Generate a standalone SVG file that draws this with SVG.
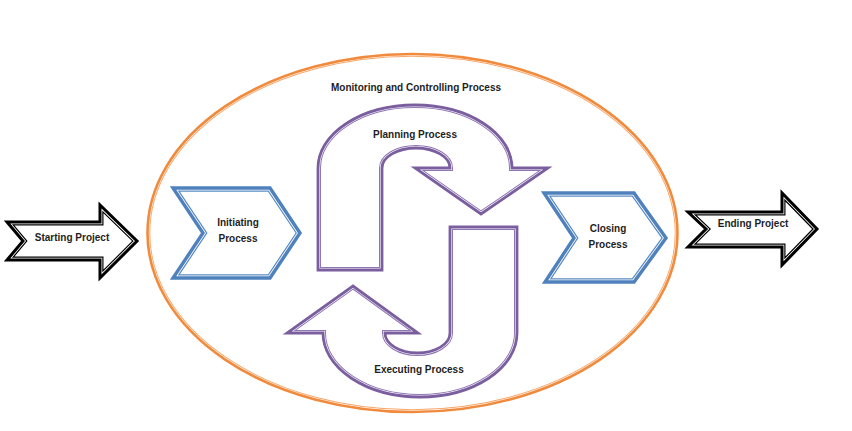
<svg xmlns="http://www.w3.org/2000/svg" xmlns:xlink="http://www.w3.org/1999/xlink" width="852" height="431" viewBox="0 0 852 431">
<style>
  .lbl { font-family: "Liberation Sans", Arial, sans-serif; font-weight: bold; font-size: 10px; fill: #1e1e1e; text-anchor: middle; }
  use { stroke-linejoin: miter; stroke-miterlimit: 10; }
  .k1 { fill: #ffffff; stroke: #000000; stroke-width: 7; }
  .k2 { fill: none; stroke: #ffffff; stroke-width: 4.6; }
  .k3 { fill: none; stroke: #000000; stroke-width: 3; }
  .b1 { fill: #ffffff; stroke: #5B8CC4; stroke-width: 7.5; }
  .b2 { fill: none; stroke: #ffffff; stroke-width: 5; }
  .b3 { fill: none; stroke: #4F81BD; stroke-width: 3.4; }
  .p1 { fill: #ffffff; stroke: #8F77B3; stroke-width: 6; }
  .p2 { fill: none; stroke: #ffffff; stroke-width: 4; }
  .p3 { fill: none; stroke: #7A5E9E; stroke-width: 2.8; }
  .o1 { fill: #ffffff; stroke: #F9A66A; stroke-width: 5.5; }
  .o2 { fill: none; stroke: #ffffff; stroke-width: 3.6; }
  .o3 { fill: none; stroke: #F08A3C; stroke-width: 2.6; }
</style>
<defs>
  <path id="p-start" d="M 7 222 L 100 222 L 100 205 L 137 241 L 100 278 L 100 260 L 7 260 L 23 241 Z"/>
  <path id="p-end" d="M 688 212 L 782 212 L 782 193 L 817 229 L 782 265 L 782 247 L 688 247 L 706 229 Z"/>
  <path id="p-init" d="M 173 188 L 270 188 L 300 233 L 270 278 L 173 278 L 203 233 Z"/>
  <path id="p-close" d="M 544 193 L 634 193 L 666 238 L 634 282 L 545 282 L 574 238 Z"/>
  <path id="p-plan" d="M 318 270 L 318 168 A 97 63 0 0 1 512 168 L 548 168 L 481 214 L 415 168 L 450 168 A 34 20 0 0 0 382 168 L 382 270 Z"/>
  <path id="p-exec" d="M 517 227 L 517 333 A 97 64 0 0 1 323 333 L 287 333 L 353 286 L 418 333 L 385 333 A 32.5 20 0 0 0 450 333 L 450 227 Z"/>
  <ellipse id="p-mon" cx="412.5" cy="233" rx="265" ry="179"/>
  <clipPath id="c-start"><use xlink:href="#p-start"/></clipPath>
  <clipPath id="c-end"><use xlink:href="#p-end"/></clipPath>
  <clipPath id="c-init"><use xlink:href="#p-init"/></clipPath>
  <clipPath id="c-close"><use xlink:href="#p-close"/></clipPath>
  <clipPath id="c-plan"><use xlink:href="#p-plan"/></clipPath>
  <clipPath id="c-exec"><use xlink:href="#p-exec"/></clipPath>
  <clipPath id="c-mon"><use xlink:href="#p-mon"/></clipPath>
</defs>
<g id="monitoring">
  <use xlink:href="#p-mon" class="o1" clip-path="url(#c-mon)"/>
  <use xlink:href="#p-mon" class="o2" clip-path="url(#c-mon)"/>
  <use xlink:href="#p-mon" class="o3"/>
  <text class="lbl" x="416" y="91">Monitoring and Controlling Process</text>
</g>
<g id="starting">
  <use xlink:href="#p-start" class="k1" clip-path="url(#c-start)"/>
  <use xlink:href="#p-start" class="k2" clip-path="url(#c-start)"/>
  <use xlink:href="#p-start" class="k3"/>
  <text class="lbl" x="72" y="241">Starting Project</text>
</g>
<g id="initiating">
  <use xlink:href="#p-init" class="b1" clip-path="url(#c-init)"/>
  <use xlink:href="#p-init" class="b2" clip-path="url(#c-init)"/>
  <use xlink:href="#p-init" class="b3"/>
  <text class="lbl" x="238" y="226">Initiating</text>
  <text class="lbl" x="238" y="242">Process</text>
</g>
<g id="planning">
  <use xlink:href="#p-plan" class="p1" clip-path="url(#c-plan)"/>
  <use xlink:href="#p-plan" class="p2" clip-path="url(#c-plan)"/>
  <use xlink:href="#p-plan" class="p3"/>
  <text class="lbl" x="415" y="138">Planning Process</text>
</g>
<g id="executing">
  <use xlink:href="#p-exec" class="p1" clip-path="url(#c-exec)"/>
  <use xlink:href="#p-exec" class="p2" clip-path="url(#c-exec)"/>
  <use xlink:href="#p-exec" class="p3"/>
  <text class="lbl" x="419" y="373">Executing Process</text>
</g>
<g id="closing">
  <use xlink:href="#p-close" class="b1" clip-path="url(#c-close)"/>
  <use xlink:href="#p-close" class="b2" clip-path="url(#c-close)"/>
  <use xlink:href="#p-close" class="b3"/>
  <text class="lbl" x="608" y="232">Closing</text>
  <text class="lbl" x="608" y="248">Process</text>
</g>
<g id="ending">
  <use xlink:href="#p-end" class="k1" clip-path="url(#c-end)"/>
  <use xlink:href="#p-end" class="k2" clip-path="url(#c-end)"/>
  <use xlink:href="#p-end" class="k3"/>
  <text class="lbl" x="753" y="227">Ending Project</text>
</g>
<g id="connectors"/>
</svg>
